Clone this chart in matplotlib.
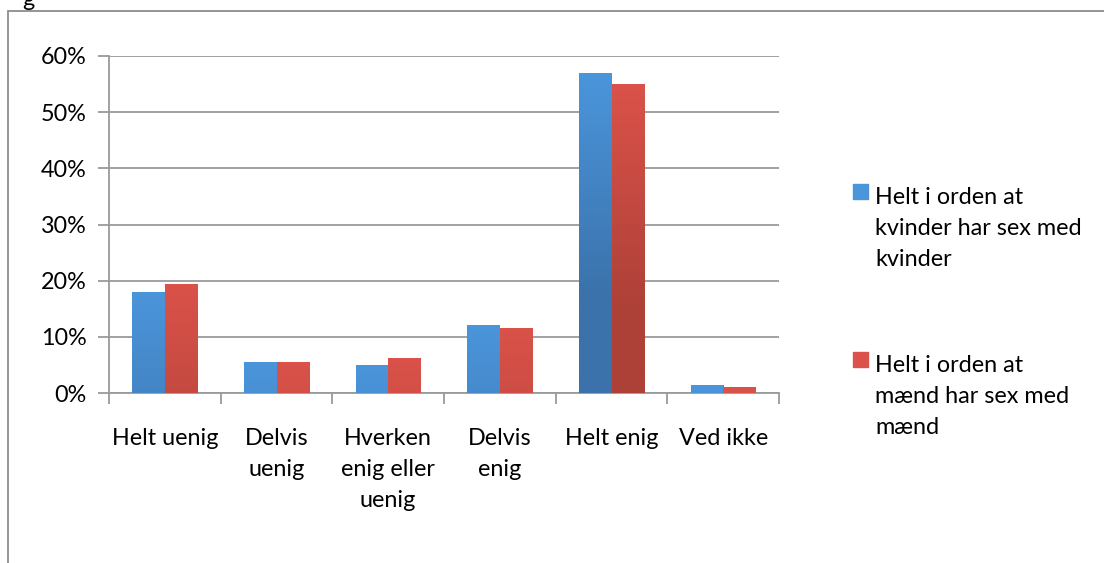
import matplotlib.pyplot as plt
import numpy as np
from matplotlib.patches import Rectangle
from matplotlib.colors import to_rgb

categories = ['Helt uenig', 'Delvis\nuenig', 'Hverken\nenig eller\nuenig', 'Delvis\nenig', 'Helt enig', 'Ved ikke']
kvinder = [18.0, 5.5, 5.0, 12.1, 57.0, 1.4]
maend = [19.4, 5.5, 6.2, 11.6, 55.0, 1.1]
series_labels = ['Helt i orden at\nkvinder har sex med\nkvinder', 'Helt i orden at\nmænd har sex med\nmænd']
yticks = [0, 10, 20, 30, 40, 50, 60]

plt.rcParams['font.family'] = ['Lato', 'DejaVu Sans']
fs = 16.8
grid_col = '#9a9a9a'

fig = plt.figure(figsize=(11.04, 5.63), dpi=100)
ax = fig.add_axes([109 / 1104, 170 / 563, 670 / 1104, 337 / 563])

x = np.arange(len(categories))
w = 0.29
colors = [('#4b95db', '#3b72ab'), ('#da5249', '#ad4138')]


def grad_bars(xs, vals, cols):
    top_c, bot_c = np.array(to_rgb(cols[0])), np.array(to_rgb(cols[1]))
    bars = ax.bar(xs, vals, w, color=cols[0], zorder=3)
    for b in bars:
        x0, h = b.get_x(), b.get_height()
        n = 64
        t = np.linspace(0, 1, n)[:, None]
        frac = np.clip(t * h / 40.0, 0, 1)
        img = top_c[None, :] * (1 - frac) + bot_c[None, :] * frac
        img = img[:, None, :]
        im = ax.imshow(img, extent=[x0, x0 + w, 0, h], aspect='auto',
                       origin='upper', zorder=3.5, interpolation='bilinear')
        im.set_clip_path(b)
    return bars


grad_bars(x - w / 2, kvinder, colors[0])
grad_bars(x + w / 2, maend, colors[1])

ax.set_xlim(-0.5, len(categories) - 0.5)
ax.set_ylim(0, 60)
ax.set_yticks(yticks)
ax.set_yticklabels([f'{v}%' for v in yticks], fontsize=fs)
ax.set_xticks(np.arange(len(categories) + 1) - 0.5, minor=False)
ax.set_xticklabels([])
ax.set_xticks(x, minor=True)
ax.set_xticklabels(categories, minor=True, fontsize=fs, linespacing=1.6, va='top')
ax.tick_params(axis='x', which='minor', length=0, pad=25)
ax.tick_params(axis='x', which='major', length=8, width=1.3, color=grid_col)
ax.tick_params(axis='y', length=8, width=1.3, color=grid_col, pad=8)

ax.yaxis.grid(True, color=grid_col, linewidth=1.3, zorder=0)
ax.set_axisbelow(True)
for s in ['top', 'right']:
    ax.spines[s].set_visible(False)
for s in ['left', 'bottom']:
    ax.spines[s].set_color(grid_col)
    ax.spines[s].set_linewidth(1.3)

# outer chart frame
fig.patches.append(Rectangle((8 / 1104, -0.1), 1.2, (563 - 11) / 563 + 0.1,
                             transform=fig.transFigure, fill=False,
                             edgecolor='#8c8c8c', linewidth=1.3))
fig.text(22 / 1104, 1.0, 'g', fontsize=fs, va='center', ha='left')

# legend
for i, (lab, cols) in enumerate(zip(series_labels, colors)):
    ytop = 184 + i * 168
    fig.patches.append(Rectangle((853 / 1104, 1 - (ytop + 15) / 563), 15 / 1104, 15 / 563,
                                 transform=fig.transFigure, color=cols[0]))
    fig.text(875 / 1104, 1 - (ytop + 3) / 563, lab, fontsize=fs, va='top',
             ha='left', linespacing=1.6)

fig.savefig('out.png', dpi=100)
